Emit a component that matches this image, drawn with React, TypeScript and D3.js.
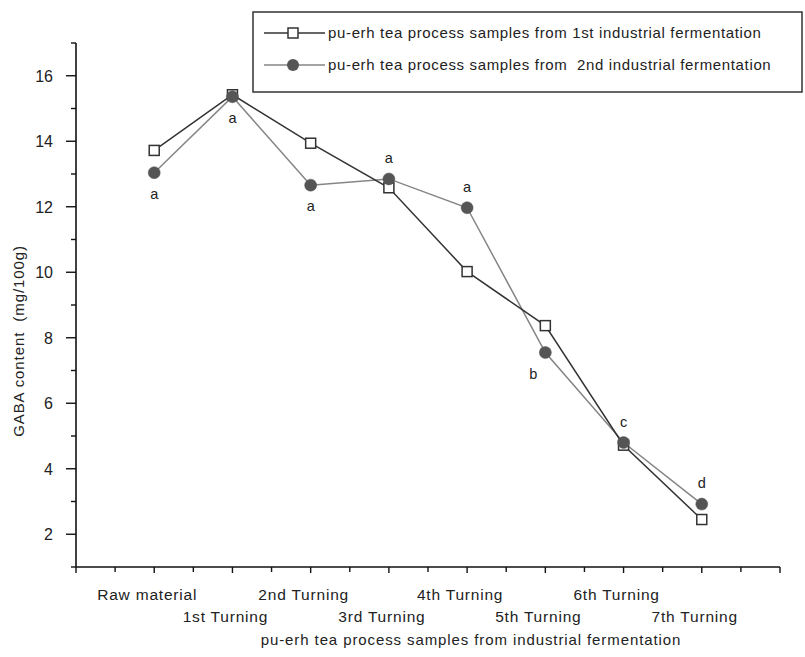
import React from "react";
import * as d3 from "d3";

const categories = [
  "Raw material",
  "1st Turning",
  "2nd Turning",
  "3rd Turning",
  "4th Turning",
  "5th Turning",
  "6th Turning",
  "7th Turning",
];
const series1 = [13.72, 15.42, 13.94, 12.58, 10.02, 8.37, 4.72, 2.45];
const series2 = [13.04, 15.36, 12.66, 12.85, 11.97, 7.55, 4.8, 2.92];
const letters = ["a", "a", "a", "a", "a", "b", "c", "d"];
const letterPlace = ["below", "below", "below", "above", "above", "belowLeft", "above", "above"];
const yTicks = [2, 4, 6, 8, 10, 12, 14, 16];
const legendLabels = [
  "pu-erh tea process samples from 1st industrial fermentation",
  "pu-erh tea process samples from  2nd industrial fermentation",
];
const xTitle = "pu-erh tea process samples from industrial fermentation";
const yTitle = "GABA content  (mg/100g)";

const W = 805;
const H = 657;
const FONT = "Arial, 'Liberation Sans', sans-serif";

export default function App() {
  const x = d3.scaleLinear().domain([0, 9]).range([76, 780]);
  const y = d3.scaleLinear().domain([1, 17]).range([567, 43]);
  const xi = (i: number) => x(i + 1);

  const line1 = d3
    .line<number>()
    .x((_, i) => xi(i))
    .y((d) => y(d))(series1) as string;
  const line2 = d3
    .line<number>()
    .x((_, i) => xi(i))
    .y((d) => y(d))(series2) as string;

  const yMinor = d3.range(1, 18, 1);
  const xTicksAll = d3.range(0, 9.01, 0.5);
  const textColor = "#222";
  const c1 = "#333";
  const c2 = "#858585";
  const fill2 = "#555";

  return (
    <div style={{ position: "fixed", left: 0, top: 0 }}>
      <svg width={W} height={H} style={{ display: "block", background: "#fff" }} fontFamily={FONT}>
        {/* Y axis */}
        <line x1={x(0)} x2={x(0)} y1={y(17)} y2={y(1)} stroke="#111" strokeWidth={1.6} />
        {yMinor.map((v) => {
          const major = v % 2 === 0;
          return (
            <line
              key={"yt" + v}
              x1={x(0) - (major ? 10 : 5)}
              x2={x(0)}
              y1={y(v)}
              y2={y(v)}
              stroke="#111"
              strokeWidth={1.4}
            />
          );
        })}
        {yTicks.map((v) => (
          <text
            key={"yl" + v}
            x={53}
            y={y(v)}
            dy="0.36em"
            textAnchor="end"
            fontSize={16}
            fill={textColor}
          >
            {v}
          </text>
        ))}
        <text
          transform={`translate(24,${341}) rotate(-90)`}
          textAnchor="middle"
          fontSize={15}
          fill={textColor}
          letterSpacing={0.9}
          style={{ whiteSpace: "pre" }}
        >
          {yTitle}
        </text>

        {/* X axis */}
        <line x1={x(0)} x2={x(9)} y1={y(1)} y2={y(1)} stroke="#111" strokeWidth={1.6} />
        {xTicksAll.map((v) => {
          const major = Number.isInteger(v);
          return (
            <line
              key={"xt" + v}
              x1={x(v)}
              x2={x(v)}
              y1={y(1)}
              y2={y(1) + (major ? 6 : 5)}
              stroke="#111"
              strokeWidth={1.4}
            />
          );
        })}
        {categories.map((c, i) => (
          <text
            key={"xl" + i}
            x={xi(i) - 7}
            y={600}
            dy={i % 2 === 0 ? 0 : 22}
            textAnchor="middle"
            fontSize={15.5}
            letterSpacing={0.8}
            fill={textColor}
          >
            {c}
          </text>
        ))}
        <text x={471} y={645} textAnchor="middle" fontSize={15} letterSpacing={0.9} fill={textColor}>
          {xTitle}
        </text>

        {/* Series lines */}
        <path d={line2} fill="none" stroke={c2} strokeWidth={1.5} />
        <path d={line1} fill="none" stroke={c1} strokeWidth={1.5} />

        {/* Markers */}
        {series1.map((v, i) => (
          <rect
            key={"s" + i}
            x={xi(i) - 5}
            y={y(v) - 5}
            width={10}
            height={10}
            fill="#fff"
            stroke={c1}
            strokeWidth={1.5}
          />
        ))}
        {series2.map((v, i) => (
          <circle key={"c" + i} cx={xi(i)} cy={y(v)} r={6} fill={fill2} stroke={fill2} strokeWidth={0.5} />
        ))}

        {/* Significance letters */}
        {letters.map((l, i) => {
          const p = letterPlace[i];
          const cx = p === "belowLeft" ? xi(i) - 12 : xi(i);
          const cy = p === "above" ? y(series2[i]) - 21 : y(series2[i]) + 21;
          return (
            <text key={"lt" + i} x={cx} y={cy} dy="0.35em" textAnchor="middle" fontSize={14.5} fill={textColor}>
              {l}
            </text>
          );
        })}

        {/* Legend */}
        <rect x={253} y={12} width={549} height={80} fill="#fff" stroke="#333" strokeWidth={1.5} />
        <line x1={264} x2={325} y1={33} y2={33} stroke={c1} strokeWidth={1.5} />
        <rect x={288} y={28} width={10} height={10} fill="#fff" stroke={c1} strokeWidth={1.5} />
        <text x={328} y={33} dy="0.35em" fontSize={15} letterSpacing={0.65} fill={textColor}>
          {legendLabels[0]}
        </text>
        <line x1={264} x2={325} y1={65} y2={65} stroke={c2} strokeWidth={1.5} />
        <circle cx={293} cy={65} r={6} fill={fill2} />
        <text x={328} y={65} dy="0.35em" fontSize={15} letterSpacing={0.65} fill={textColor} style={{ whiteSpace: "pre" }}>
          {legendLabels[1]}
        </text>
      </svg>
    </div>
  );
}
